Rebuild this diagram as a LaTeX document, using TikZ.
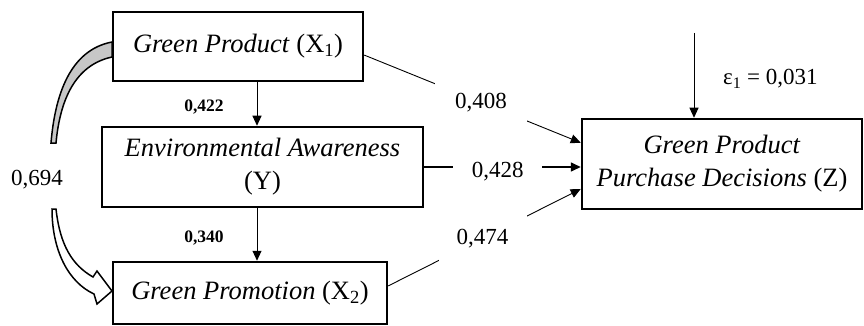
\documentclass[tikz,border=0pt]{standalone}
\usepackage{fontspec}
\setmainfont{Liberation Serif}
\usetikzlibrary{arrows.meta,calc}
\begin{document}
\begin{tikzpicture}[x=1pt,y=-1pt,
  box/.style={draw, line width=2.5pt, align=center, inner sep=0pt,
    font=\fontsize{26.5}{33}\selectfont},
  conn/.style={line width=0.9pt, -{Triangle[length=10pt,width=9pt]}},
  lbl/.style={fill=white, inner sep=0pt, font=\fontsize{23}{28}\selectfont},
  blbl/.style={inner sep=0pt, font=\bfseries\fontsize{17.5}{20}\selectfont}]
\useasboundingbox (0,0) rectangle (864,326);

% variables
\node[box, minimum width=250pt, minimum height=69pt] (X1) at (238,46.5)
  {\textit{Green Product} (X\textsubscript{1})};
\node[box, minimum width=321pt, minimum height=80pt] (Y) at (262.5,167)
  {\textit{Environmental Awareness}\\(Y)};
\node[box, minimum width=274pt, minimum height=62pt] (X2) at (250,293)
  {\textit{Green Promotion} (X\textsubscript{2})};
\node[box, minimum width=280pt, minimum height=90pt] (Z) at (722,164)
  {\textit{Green Product}\\\textit{Purchase Decisions} (Z)};

% anchor columns for the vertical arrows
\coordinate (ax) at (257,0);
\coordinate (ex) at (694,33);

% X1 -> Y -> X2
\draw[conn] (X1.south -| ax) -- (Y.north -| ax);
\draw[conn] (Y.south -| ax) -- (X2.north -| ax);
\node[blbl] (l422) at (204,107) {0,422};
\node[blbl] (l340) at (204,238) {0,340};

% paths into Z
\draw[conn] ($(X1.north east)!0.62!(X1.south east)$)
  -- node[lbl, pos=0.539, minimum width=92pt, minimum height=40pt] (l408) {0,408}
  ($(Z.north west)!0.27!(Z.south west)$);
\draw[conn, line width=1.6pt] (Y.east) -- node[lbl, pos=0.47, yshift=-5pt,
  minimum width=89pt, minimum height=30pt] (l428) {0,428} (Y.east -| Z.west);
\draw[conn] ($(X2.north east)!0.39!(X2.south east)$)
  -- node[lbl, pos=0.49, minimum width=88pt, minimum height=46pt] (l474) {0,474}
  ($(Z.north west)!0.77!(Z.south west)$);

% residual
\draw[conn] (ex) -- (Z.north -| ex);
\node[lbl, anchor=west] (eps) at (723,79) {ε\textsubscript{1} = 0,031};

% correlation X1 <-> X2
\draw[line width=1.5pt, fill=black!22]
  (112,42) .. controls (70,50) and (55,95) .. (51,143)
  -- (56,143) .. controls (60,100) and (75,65) .. (112,57) -- cycle;
\draw[line width=1.5pt, fill=white, line join=miter]
  (52,209) -- (56,209) .. controls (60,245) and (72,265) .. (93,277)
  -- (97,271) -- (112,291) -- (97,304) -- (94,294)
  .. controls (68,282) and (52,250) .. (52,209) -- cycle;
\node[lbl] (l694) at (37,180) {0,694};
\end{tikzpicture}
\end{document}
